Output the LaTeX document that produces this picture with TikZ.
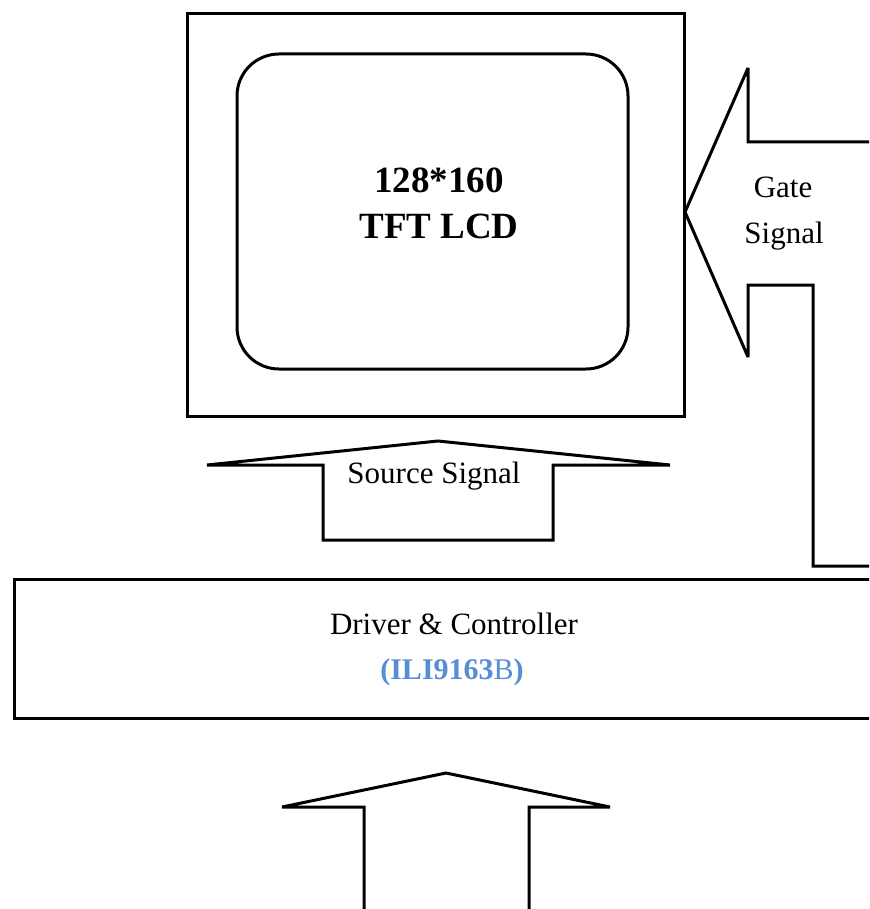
\documentclass[tikz,border=0pt]{standalone}
\usepackage{fontspec}
\setmainfont{Liberation Serif}
\definecolor{chipblue}{RGB}{85,142,213}
\begin{document}
\begin{tikzpicture}[x=1pt,y=-1pt,
  outline/.style={draw=black,line width=3pt,line join=miter,miter limit=3},
  lbl/.style={font=\fontsize{31}{37}\selectfont,inner sep=0pt,align=center},
  big/.style={font=\fontsize{37}{46}\selectfont\bfseries,inner sep=0pt,align=center}]
\useasboundingbox (0,0) rectangle (869,909);
\clip (0,0) rectangle (869,909);
\fill[white] (0,0) rectangle (869,909);
% LCD frame
\draw[outline] (187,14) rectangle (684,416);
\draw[outline,rounded corners=42pt] (237,54) rectangle (628,369);
\node[big] (title1) at (439,180) {128*160};
\node[big] (title2) at (439,226) {TFT LCD};
% gate signal arrow
\draw[outline] (875,142) -- (748,142) -- (748,68) -- (685,212) -- (748,357) -- (748,285) -- (813,285) -- (813,566) -- (875,566);
\node[lbl] (gate) at (783,187) {Gate};
\node[lbl] (gsig) at (784,236) {Signal};
% source signal arrow
\draw[outline] (207,465) -- (438,441) -- (670,465) -- (553,465) -- (553,540) -- (323,540) -- (323,465) -- cycle;
\node[lbl] (src) at (434,476) {Source Signal};
% driver box
\draw[outline] (875,579) -- (14,579) -- (14,718) -- (875,718);
\node[lbl] (drv) at (454,624) {Driver \& Controller};
\node[font=\fontsize{30}{36}\selectfont,text=chipblue,inner sep=0pt] (chip) at (452,672) {\textbf{(ILI9163}B\textbf{)}};
% bottom arrow
\draw[outline] (364,915) -- (364,807) -- (282,807) -- (446,773) -- (610,807) -- (529,807) -- (529,915);
\end{tikzpicture}
\end{document}
